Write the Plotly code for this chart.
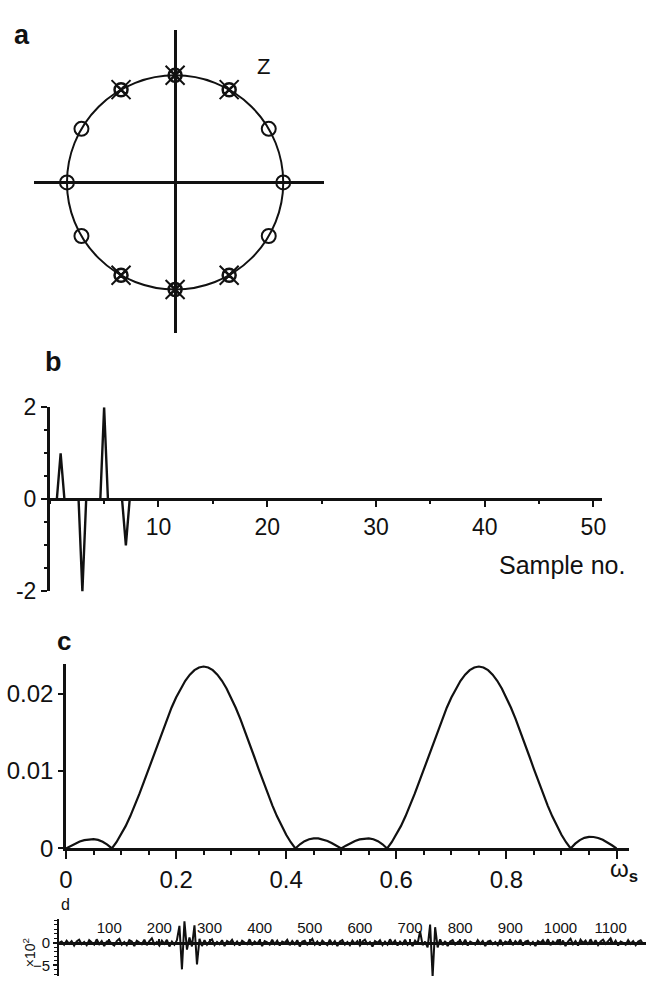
import math
import plotly.graph_objects as go

# ---------------- data ----------------
# panel a: pole/zero angles (degrees) on the unit circle
zero_angles = [0, 30, 150, 180, 210, 330]
cancel_angles = [60, 90, 120, 240, 270, 300]

# panel b: impulse response, sample no. 0..50
b_samples = list(range(51))
b_values = [0, 1, 0, -2, 0, 2, 0, -1, 0, 0,
            0, 0, 0, 0, 0, 0, 0, 0, 0, 0,
            0, 0, 0, 0, 0, 0, 0, 0, 0, 0,
            0, 0, 0, 0, 0, 0, 0, 0, 0, 0,
            0, 0, 0, 0, 0, 0, 0, 0, 0, 0,
            0]

# panel c: magnitude response, frequency in units of ws (step 1/120)
c_freq = [i / 120 for i in range(121)]
c_mag = [0,
         0.00033, 0.00062, 0.00089, 0.00108, 0.00118, 0.00120, 0.00110, 0.00086, 0.00050,
         0,
         0.00080, 0.00176, 0.00288, 0.00415, 0.00554, 0.00704, 0.00862, 0.01025, 0.01191, 0.01357,
         0.01518, 0.01673, 0.01818, 0.01950, 0.02067, 0.02166, 0.02245, 0.02303, 0.02338, 0.02350,
         0.02338, 0.02303, 0.02245, 0.02166, 0.02067, 0.01950, 0.01818, 0.01673, 0.01518, 0.01357,
         0.01191, 0.01025, 0.00862, 0.00704, 0.00554, 0.00415, 0.00288, 0.00176, 0.00080,
         0,
         0.00054, 0.00094, 0.00119, 0.00131, 0.00129, 0.00117, 0.00097, 0.00068, 0.00036,
         0,
         0.00036, 0.00068, 0.00097, 0.00117, 0.00129, 0.00131, 0.00119, 0.00094, 0.00054,
         0,
         0.00080, 0.00176, 0.00288, 0.00415, 0.00554, 0.00704, 0.00862, 0.01025, 0.01191, 0.01357,
         0.01518, 0.01673, 0.01818, 0.01950, 0.02067, 0.02166, 0.02245, 0.02303, 0.02338, 0.02350,
         0.02338, 0.02303, 0.02245, 0.02166, 0.02067, 0.01950, 0.01818, 0.01673, 0.01518, 0.01357,
         0.01191, 0.01025, 0.00862, 0.00704, 0.00554, 0.00415, 0.00288, 0.00176, 0.00080,
         0,
         0.00062, 0.00108, 0.00137, 0.00150, 0.00148, 0.00135, 0.00111, 0.00078, 0.00041,
         0]

# panel d: recorded signal (x10^-2), every 5th sample
d_step = 5
d_y = [0.0, 0.3, -0.4, 0.5, -0.2, 0.4, -0.6, 0.3, 0.7, -0.3,
       0.2, -0.5, 0.6, 0.0, -0.4, 0.8, -0.3, 0.4, -0.7, 0.3,
       0.5, -0.2, -0.6, 0.4, 0.9, -0.4, 0.2, -0.5, 0.6, 0.3,
       -0.7, 0.5, 0.1, -0.3, 0.7, -0.5, 0.4, 1.0, -0.3, 0.2,
       -0.6, 0.5, -0.2, 0.7, -0.8, 0.3, -0.4, 0.6, 3.8, -5.9,
       4.8, -1.5, 1.2, -0.8, 3.9, -4.8, 0.9, -0.7, 0.6, -0.4,
       0.3, 0.8, -0.5, 0.2, -0.3, 0.6, -0.7, 0.4, 0.0, 0.7,
       -0.4, 0.3, -0.6, 0.5, 0.1, -0.3, 0.8, -0.5, 0.3, -0.2,
       0.6, -0.7, 0.4, 0.1, -0.4, 0.7, -0.3, 0.5, -0.6, 0.3,
       0.0, 0.7, -0.5, 0.4, -0.3, 0.6, -0.8, 0.3, 0.5, -0.4,
       0.2, 0.9, -0.4, 0.3, -0.6, 0.5, 0.0, -0.5, 0.7, -0.3,
       0.4, -0.7, 0.3, 0.6, -0.4, 0.2, -0.5, 0.5, -0.2, 0.4,
       -0.6, 0.3, 0.7, -0.3, 0.2, -0.8, 0.4, 0.0, 0.6, -0.5,
       0.3, -0.4, 0.8, -0.2, 0.5, -0.6, 0.3, -0.3, 0.7, -0.4,
       0.2, -0.7, 0.5, -0.2, 2.6, -0.5, 0.3, -1.0, 4.1, -7.6,
       3.5, -1.0, 0.8, -0.5, 0.4, -0.7, 0.3, 0.6, -0.4, 0.2,
       0.5, -0.3, 0.7, -0.6, 0.3, 0.0, -0.4, 0.6, -0.2, 0.4,
       -0.7, 0.3, 0.5, -0.3, 0.2, -0.5, 0.7, -0.4, 0.3, 0.0,
       0.6, -0.5, 0.4, -0.2, 0.7, -0.6, 0.3, 0.5, -0.4, 0.2,
       -0.7, 0.4, 0.0, 0.6, -0.3, 0.8, -0.5, 0.3, -0.2, 0.7,
       -0.4, 0.5, -0.7, 0.3, 0.9, -0.3, 0.4, -0.6, 0.7, 0.0,
       0.5, -0.4, 0.8, -0.3, 0.6, -0.5, 0.3, 0.7, -0.2, 0.4,
       1.0, -0.3, 0.5, -0.6, 0.3, 0.0, -0.4, 0.6, -0.2, 0.4,
       -0.5, 0.3, 0.6, -0.3]
d_x = [i * d_step for i in range(len(d_y))]
d_ticks = [100, 200, 300, 400, 500, 600, 700, 800, 900, 1000, 1100]

# ---------------- layout helpers ----------------
W, H = 650, 989
FONT = "Liberation Sans, Arial, sans-serif"
BLK = "#111111"


def px(x):
    return x / W


def py(y):
    return 1 - y / H


fig = go.Figure()

# ---------------- panel a ----------------
fig.add_shape(type="circle", xref="x", yref="y", x0=-1, y0=-1, x1=1, y1=1,
              line=dict(color=BLK, width=2))
zx = [math.cos(math.radians(a)) for a in zero_angles]
zy = [math.sin(math.radians(a)) for a in zero_angles]
cx = [math.cos(math.radians(a)) for a in cancel_angles]
cy = [math.sin(math.radians(a)) for a in cancel_angles]
fig.add_trace(go.Scatter(x=zx, y=zy, mode="markers", xaxis="x", yaxis="y",
                         marker=dict(symbol="circle-open", size=14, color=BLK, line=dict(width=2)),
                         hoverinfo="skip"))
fig.add_trace(go.Scatter(x=cx, y=cy, mode="markers", xaxis="x", yaxis="y",
                         marker=dict(symbol="circle-x-open", size=13, color=BLK, line=dict(width=2.5)),
                         hoverinfo="skip"))
fig.add_trace(go.Scatter(x=cx, y=cy, mode="markers", xaxis="x", yaxis="y",
                         marker=dict(symbol="x-thin-open", size=19, color=BLK, line=dict(width=2)),
                         hoverinfo="skip"))

# ---------------- panel b ----------------
bx, by = [], []
for n, v in zip(b_samples, b_values):
    bx += [n - 0.35, n, n + 0.35]
    by += [0, v, 0]
fig.add_trace(go.Scatter(x=bx, y=by, mode="lines", xaxis="x2", yaxis="y2",
                         line=dict(color=BLK, width=2.4), hoverinfo="skip",
                         cliponaxis=False))

# ---------------- panel c ----------------
fig.add_trace(go.Scatter(x=c_freq, y=c_mag, mode="lines", xaxis="x3", yaxis="y3",
                         line=dict(color=BLK, width=2.2), hoverinfo="skip",
                         cliponaxis=False))

# ---------------- panel d ----------------
fig.add_trace(go.Scatter(x=d_x, y=d_y, mode="lines", xaxis="x4", yaxis="y4",
                         line=dict(color=BLK, width=2), hoverinfo="skip"))

# domains (pixel based)
a_x0, a_x1, a_cx, a_y0, a_y1, a_cy, a_r = 27, 322, 171, 17, 329, 174, 110
b_x0, b_x1, b_scale, b_ytop, b_ybot = 43.5, 605, 11.06, 405, 594
c_x0, c_x1, c_scale, c_ytop, c_ybot, c_yscale = 60, 633, 560, 669, 858, 7950
d_x0, d_x1, d_scale, d_ytop, d_ybot, d_zero, d_yscale = 53, 650, 0.51, 930, 989, 955, 4.6

tickfont_b = dict(family=FONT, size=23, color=BLK)
tickfont_c = dict(family=FONT, size=24, color=BLK)
tickfont_d = dict(family=FONT, size=15, color=BLK)

fig.update_layout(
    width=W, height=H, margin=dict(l=0, r=0, t=0, b=0),
    paper_bgcolor="white", plot_bgcolor="white", showlegend=False,
    # panel a
    xaxis=dict(domain=[px(a_x0), px(a_x1)],
               range=[(a_x0 - a_cx) / a_r, (a_x1 - a_cx) / a_r],
               showgrid=False, showticklabels=False, ticks="", showline=False,
               zeroline=True, zerolinecolor=BLK, zerolinewidth=2.5, anchor="y"),
    yaxis=dict(domain=[py(a_y1), py(a_y0)],
               range=[(a_cy - a_y1) / a_r, (a_cy - a_y0) / a_r],
               showgrid=False, showticklabels=False, ticks="", showline=False,
               zeroline=True, zerolinecolor=BLK, zerolinewidth=2.5, anchor="x"),
    # panel b
    xaxis2=dict(domain=[px(b_x0), px(b_x1)], range=[0, (b_x1 - b_x0) / b_scale],
                anchor="free", position=(py(b_ybot) + py(b_ytop)) / 2,
                showline=True, linecolor=BLK, linewidth=3, showgrid=False, zeroline=False,
                ticks="outside", ticklen=6, tickwidth=2, tickcolor=BLK,
                tickvals=[10, 20, 30, 40, 50], tickfont=tickfont_b,
                minor=dict(dtick=5, ticks="outside", ticklen=3, tickwidth=1.5, tickcolor=BLK)),
    yaxis2=dict(domain=[py(b_ybot), py(b_ytop)], range=[-2, 2], anchor="x2",
                showline=True, linecolor=BLK, linewidth=2.5, showgrid=False, zeroline=False,
                ticks="outside", ticklen=6, tickwidth=2, tickcolor=BLK,
                tickvals=[-2, 0, 2], ticktext=["-2", "0", "2"], tickfont=tickfont_b,
                minor=dict(dtick=0.5, ticks="outside", ticklen=3, tickwidth=1.5, tickcolor=BLK)),
    # panel c
    xaxis3=dict(domain=[px(c_x0), px(c_x1)], range=[0, (c_x1 - c_x0) / c_scale],
                anchor="y3", showline=True, linecolor=BLK, linewidth=3,
                showgrid=False, zeroline=False,
                ticks="outside", ticklen=8, tickwidth=2, tickcolor=BLK,
                tickvals=[0, 0.2, 0.4, 0.6, 0.8, 1.0],
                ticktext=["0", "0.2", "0.4", "0.6", "0.8", " "], tickfont=tickfont_c,
                minor=dict(dtick=0.05, ticks="outside", ticklen=4, tickwidth=1.5, tickcolor=BLK)),
    yaxis3=dict(domain=[py(c_ybot), py(c_ytop)], range=[0, (c_ybot - c_ytop) / c_yscale],
                anchor="x3", showline=True, linecolor=BLK, linewidth=2.5,
                showgrid=False, zeroline=False,
                ticks="outside", ticklen=5, tickwidth=2, tickcolor=BLK,
                tickvals=[0, 0.01, 0.02], ticktext=["0", "0.01", "0.02"], tickfont=tickfont_c),
    # panel d
    xaxis4=dict(domain=[px(d_x0), px(d_x1)], range=[0, (d_x1 - d_x0) / d_scale],
                anchor="free", position=py(d_zero), side="top",
                showline=True, linecolor=BLK, linewidth=2.5, showgrid=False, zeroline=False,
                ticks="outside", ticklen=3, tickwidth=1.5, tickcolor=BLK,
                tickvals=d_ticks, tickfont=tickfont_d),
    yaxis4=dict(domain=[py(d_ybot), py(d_ytop)],
                range=[(d_zero - d_ybot) / d_yscale, (d_zero - d_ytop) / d_yscale],
                anchor="x4", showline=True, linecolor=BLK, linewidth=2, showgrid=False,
                zeroline=False, ticks="outside", ticklen=4, tickwidth=1.5, tickcolor=BLK,
                tickvals=[0, -5], ticktext=["0", "\u22125"], tickfont=tickfont_d,
                minor=dict(dtick=1, ticks="outside", ticklen=3, tickwidth=1, tickcolor=BLK)),
)

ann_font = dict(family="Liberation Sans, Arial, sans-serif", color=BLK)
annotations = [
    dict(text="<b>a</b>", x=px(15), y=py(23), size=27),
    dict(text="<b>b</b>", x=px(47), y=py(358), size=27),
    dict(text="<b>c</b>", x=px(58), y=py(645), size=26),
    dict(text="d", x=px(59), y=py(916), size=16),
]
for a in annotations:
    fig.add_annotation(text=a["text"], x=a["x"], y=a["y"], xref="paper", yref="paper",
                       showarrow=False, xanchor="center", yanchor="middle",
                       font=dict(size=a["size"], **ann_font))

fig.add_annotation(text="Z", x=(261 - a_cx) / a_r, y=(a_cy - 55) / a_r, xref="x", yref="y",
                   showarrow=False, font=dict(family=FONT, size=22, color=BLK))
fig.add_annotation(text="Sample no.", x=px(565), y=py(567), xref="paper", yref="paper",
                   showarrow=False, xanchor="center", yanchor="middle",
                   font=dict(family=FONT, size=25, color=BLK))
fig.add_annotation(text="\u03c9<sub><b>s</b></sub>", x=px(628), y=py(881), xref="paper", yref="paper",
                   showarrow=False, xanchor="center", yanchor="middle",
                   font=dict(family=FONT, size=24, color=BLK))
fig.add_annotation(text="\u00d710<sup>2</sup>", x=px(22), y=py(965), xref="paper", yref="paper",
                   showarrow=False, textangle=-90, xanchor="center", yanchor="middle",
                   font=dict(family=FONT, size=14, color=BLK))

fig.write_html("out.html")
